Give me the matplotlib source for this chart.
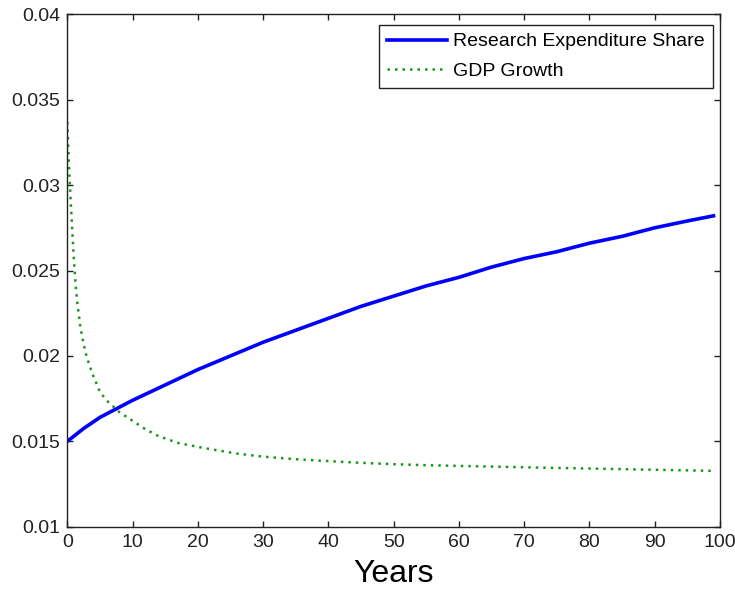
import numpy as np
import matplotlib
matplotlib.use("Agg")
import matplotlib.pyplot as plt

plt.rcParams['font.family'] = ['Liberation Sans', 'DejaVu Sans']

# research expenditure share, sampled about every 5 years
years_r = [0, 2.5, 5, 10, 15, 20, 25, 30, 35, 40, 45, 50, 55, 60, 65, 70, 75, 80, 85, 90, 95, 99]
research_share = [0.0150, 0.01575, 0.0164, 0.0174, 0.0183, 0.0192, 0.0200, 0.0208, 0.0215,
                  0.0222, 0.0229, 0.0235, 0.0241, 0.0246, 0.0252, 0.0257, 0.0261, 0.0266,
                  0.0270, 0.0275, 0.0279, 0.0282]

# gdp growth, finer steps where it drops fast
years_g = [0, 0.25, 0.5, 0.75, 1, 1.25, 1.5, 2, 2.5, 3, 4, 5, 6, 8, 10, 12, 14, 17, 21, 26,
           30, 35, 40, 45, 50, 55, 65, 75, 85, 99]
gdp_growth = [0.0337, 0.0312, 0.0292, 0.0274, 0.0257, 0.0243, 0.0232, 0.0217, 0.0207, 0.0199,
              0.0188, 0.0179, 0.0174, 0.0167, 0.0162, 0.0157, 0.0153, 0.0149, 0.0146, 0.01428,
              0.0141, 0.01395, 0.01384, 0.01374, 0.01366, 0.0136, 0.01352, 0.01344, 0.01337,
              0.01327]

W, H = 735, 592
fig = plt.figure(figsize=(W / 100, H / 100), dpi=100)
ax = fig.add_axes([67.3 / W, 1 - 526.7 / H, (720 - 67.3) / W, (526.7 - 14.3) / H])

ax.plot(years_r, research_share, color='#0000ff', lw=2.6, label='Research Expenditure Share')
ax.plot(years_g, gdp_growth, color='#1a961a', lw=1.8, linestyle=(0, (1, 2)),
        label='GDP Growth')

ax.set_xlim(0, 100)
ax.set_ylim(0.01, 0.04)
ax.set_xticks(np.arange(0, 101, 10))
ax.set_yticks([0.01, 0.015, 0.02, 0.025, 0.03, 0.035, 0.04])
ax.set_yticklabels(['0.01', '0.015', '0.02', '0.025', '0.03', '0.035', '0.04'])
ax.tick_params(direction='in', length=4, width=1, top=True, right=True,
               labelsize=14, colors='#222222', pad=5)
for s in ax.spines.values():
    s.set_linewidth(1)
    s.set_color('#222222')

ax.set_xlabel('Years', fontsize=23, labelpad=6)

leg = ax.legend(loc='upper right', bbox_to_anchor=(712.7 / W, 1 - 25 / H),
                bbox_transform=fig.transFigure, borderaxespad=0, fontsize=14,
                handlelength=3.1, handletextpad=0.3, labelspacing=0.62,
                borderpad=0.4, fancybox=False, framealpha=1, edgecolor='#222222')
leg.get_frame().set_linewidth(1)

fig.savefig('out.png', dpi=100)
